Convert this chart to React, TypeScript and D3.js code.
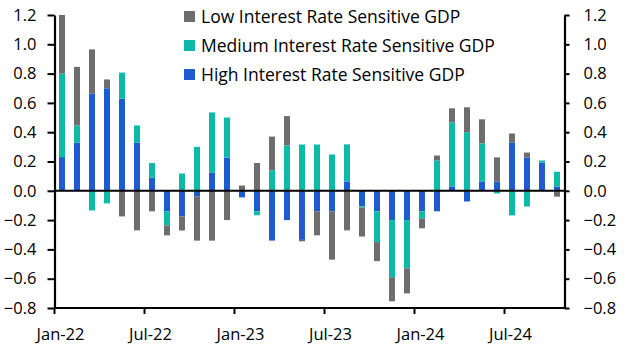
import React, { useEffect, useRef } from 'react';
import * as d3 from 'd3';

const months = [
  'Jan-22', 'Feb-22', 'Mar-22', 'Apr-22', 'May-22', 'Jun-22', 'Jul-22', 'Aug-22', 'Sep-22', 'Oct-22', 'Nov-22', 'Dec-22',
  'Jan-23', 'Feb-23', 'Mar-23', 'Apr-23', 'May-23', 'Jun-23', 'Jul-23', 'Aug-23', 'Sep-23', 'Oct-23', 'Nov-23', 'Dec-23',
  'Jan-24', 'Feb-24', 'Mar-24', 'Apr-24', 'May-24', 'Jun-24', 'Jul-24', 'Aug-24', 'Sep-24', 'Oct-24',
];

const highValues = [
  0.23, 0.33, 0.665, 0.70, 0.63, 0.33, 0.09, -0.14, -0.175, -0.04, 0.125, 0.227,
  -0.045, -0.14, -0.34, -0.20, -0.335, -0.14, -0.14, 0.064, -0.107, -0.14, -0.20, -0.20,
  -0.14, -0.14, 0.03, -0.073, 0.064, 0.064, 0.33, 0.227, 0.193, 0.03,
];
const mediumValues = [
  0.57, 0.116, -0.134, -0.086, 0.177, 0.116, 0.10, -0.096, 0.118, 0.30, 0.41, 0.273,
  0, -0.027, 0.14, 0.31, 0.316, 0.316, 0.248, 0.253, -0.007, -0.21, -0.39, -0.33,
  -0.048, 0.207, 0.437, 0.40, 0.26, -0.018, -0.168, -0.107, 0.014, 0.10,
];
const lowValues = [
  0.40, 0.40, 0.30, 0.06, -0.175, -0.27, -0.14, -0.068, -0.096, -0.30, -0.34, -0.20,
  0.036, 0.19, 0.23, 0.20, -0.01, -0.164, -0.33, -0.27, -0.198, -0.13, -0.164, -0.17,
  -0.068, 0.034, 0.096, 0.17, 0.164, 0.164, 0.061, 0.034, 0, -0.04,
];

const seriesNames = [
  'Low Interest Rate Sensitive GDP',
  'Medium Interest Rate Sensitive GDP',
  'High Interest Rate Sensitive GDP',
];
const yTicks = [-0.8, -0.6, -0.4, -0.2, 0, 0.2, 0.4, 0.6, 0.8, 1.0, 1.2];
const xLabels = ['Jan-22', 'Jul-22', 'Jan-23', 'Jul-23', 'Jan-24', 'Jul-24'];

const colors: Record<string, string> = { high: '#1f5bd0', medium: '#0dbaa8', low: '#6d6d6d' };

const App = () => {
  const ref = useRef<SVGSVGElement>(null);

  useEffect(() => {
    const width = 627;
    const height = 352;
    const left = 54.5;
    const right = 564.5;
    const top = 15;
    const bottom = 308;
    const font = '"Open Sans", sans-serif';
    const fontSize = 16.5;

    const svg = d3.select(ref.current);
    svg.selectAll('*').remove();

    const rows = months.map((m, i) => ({ month: m, high: highValues[i], medium: mediumValues[i], low: lowValues[i] }));
    const stack = d3.stack<any>().keys(['high', 'medium', 'low']).offset(d3.stackOffsetDiverging);
    const series = stack(rows);

    const x = d3.scaleBand().domain(months).range([left, right]).paddingInner(0.6).paddingOuter(0.3);
    const y = d3.scaleLinear().domain([-0.8, 1.2]).range([bottom, top]);
    const step = x.step();

    svg.append('g')
      .selectAll('g')
      .data(series)
      .join('g')
      .attr('fill', d => colors[d.key])
      .selectAll('rect')
      .data(d => d)
      .join('rect')
      .attr('x', d => x(d.data.month)!)
      .attr('width', x.bandwidth())
      .attr('y', d => y(Math.max(d[0], d[1])))
      .attr('height', d => Math.abs(y(d[0]) - y(d[1])));

    const axisColor = '#000';
    // zero line
    svg.append('line')
      .attr('x1', left).attr('x2', right)
      .attr('y1', y(0)).attr('y2', y(0))
      .attr('stroke', axisColor).attr('stroke-width', 2);

    // y axes on both sides
    const leftAxis = svg.append('g').attr('transform', `translate(${left},0)`)
      .call(d3.axisLeft(y).tickValues(yTicks).tickFormat(d3.format('.1f')).tickSizeInner(7).tickSizeOuter(0).tickPadding(11));
    const rightAxis = svg.append('g').attr('transform', `translate(${right},0)`)
      .call(d3.axisRight(y).tickValues(yTicks).tickFormat(d3.format('.1f')).tickSizeInner(5).tickSizeOuter(0).tickPadding(14));
    [leftAxis, rightAxis].forEach(a => {
      a.select('.domain').attr('stroke-width', 2.2);
      a.selectAll('.tick line').attr('stroke-width', 2);
      a.selectAll('.tick text').attr('font-family', font).attr('font-size', fontSize).attr('fill', '#000');
    });

    // bottom axis
    svg.append('line')
      .attr('x1', left).attr('x2', right)
      .attr('y1', bottom).attr('y2', bottom)
      .attr('stroke', axisColor).attr('stroke-width', 2.2);

    const xg = svg.append('g');
    months.forEach((m, i) => {
      if (i % 6 !== 0) return;
      const xp = left + i * step;
      xg.append('line')
        .attr('x1', xp).attr('x2', xp)
        .attr('y1', bottom).attr('y2', bottom + 6)
        .attr('stroke', axisColor).attr('stroke-width', 2);
    });
    xg.selectAll('text')
      .data(xLabels)
      .join('text')
      .attr('x', d => x(d)! + x.bandwidth() / 2 - 1.5)
      .attr('y', 340)
      .attr('text-anchor', 'middle')
      .attr('font-family', font)
      .attr('font-size', fontSize)
      .text(d => d);

    // legend
    const legendColors = [colors.low, colors.medium, colors.high];
    const legend = svg.append('g');
    seriesNames.forEach((name, i) => {
      const ly = 11 + i * 29;
      legend.append('rect')
        .attr('x', 184).attr('y', ly)
        .attr('width', 11).attr('height', 11)
        .attr('fill', legendColors[i]);
      legend.append('text')
        .attr('x', 201).attr('y', ly + 11.5)
        .attr('font-family', font)
        .attr('font-size', 17.5)
        .attr('fill', '#000')
        .text(name);
    });

    svg.attr('width', width).attr('height', height);
  }, []);

  return (
    <svg ref={ref} width={627} height={352} style={{ position: 'absolute', left: 0, top: 0, background: '#fff' }} />
  );
};

export default App;
